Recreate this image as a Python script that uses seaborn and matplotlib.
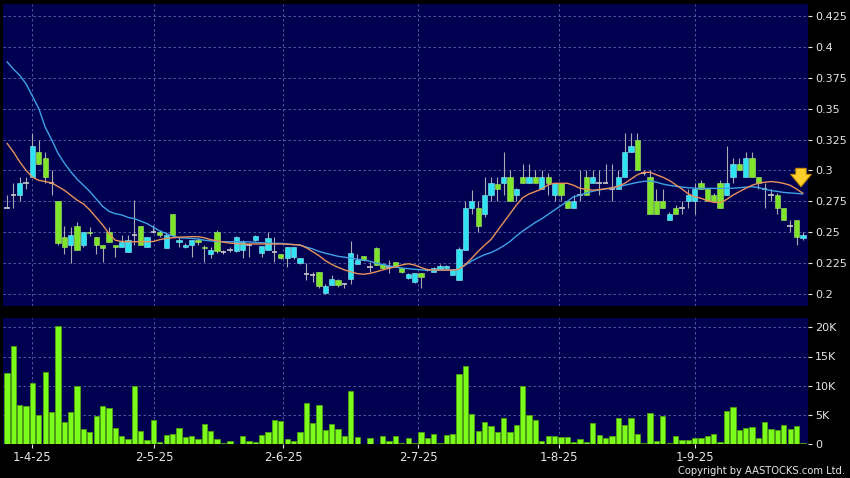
import numpy as np
import pandas as pd
import matplotlib
matplotlib.use("Agg")
import matplotlib.pyplot as plt
import seaborn as sns
from matplotlib.ticker import FixedLocator, FixedFormatter

# trading day index, 26 Mar 2025 .. end Sep 2025
day = np.arange(126)

opens = [
    0.270, 0.280, 0.280, 0.290, 0.295, 0.315, 0.310, 0.290, 0.275, 0.246,
    0.240, 0.255, 0.240, 0.250, 0.246, 0.240, 0.250, 0.240, 0.238, 0.234,
    0.248, 0.255, 0.238, 0.250, 0.250, 0.237, 0.265, 0.242, 0.238, 0.240,
    0.244, 0.238, 0.232, 0.250, 0.234, 0.236, 0.235, 0.236, 0.240, 0.244,
    0.233, 0.236, 0.234, 0.232, 0.229, 0.230, 0.225, 0.216, 0.215, 0.2175,
    0.2005, 0.207, 0.211, 0.208, 0.212, 0.2243, 0.2305, 0.2216, 0.237, 0.224,
    0.222, 0.2256, 0.2208, 0.2127, 0.2094, 0.2167, 0.2194, 0.218, 0.2203, 0.2208,
    0.2154, 0.2113, 0.236, 0.270, 0.270, 0.265, 0.280, 0.289, 0.290, 0.295,
    0.280, 0.295, 0.290, 0.295, 0.285, 0.295, 0.280, 0.290, 0.275, 0.270,
    0.280, 0.295, 0.290, 0.290, 0.290, 0.285, 0.285, 0.295, 0.315, 0.325,
    0.298, 0.295, 0.275, 0.275, 0.260, 0.270, 0.270, 0.275, 0.275, 0.290,
    0.285, 0.280, 0.290, 0.280, 0.295, 0.305, 0.295, 0.310, 0.295, 0.285,
    0.280, 0.280, 0.270, 0.255, 0.260, 0.245,
]
highs = [
    0.280, 0.290, 0.295, 0.295, 0.330, 0.325, 0.315, 0.300, 0.275, 0.255,
    0.254, 0.258, 0.250, 0.254, 0.246, 0.240, 0.254, 0.240, 0.248, 0.248,
    0.276, 0.255, 0.246, 0.256, 0.252, 0.250, 0.265, 0.246, 0.241, 0.244,
    0.245, 0.240, 0.238, 0.252, 0.236, 0.238, 0.247, 0.244, 0.241, 0.248,
    0.239, 0.250, 0.246, 0.232, 0.238, 0.238, 0.229, 0.225, 0.218, 0.218,
    0.208, 0.215, 0.212, 0.209, 0.243, 0.232, 0.231, 0.226, 0.238, 0.225,
    0.2275, 0.226, 0.221, 0.217, 0.217, 0.217, 0.220, 0.222, 0.224, 0.2235,
    0.220, 0.238, 0.275, 0.284, 0.275, 0.295, 0.295, 0.295, 0.315, 0.300,
    0.286, 0.305, 0.305, 0.300, 0.300, 0.298, 0.290, 0.290, 0.275, 0.280,
    0.300, 0.300, 0.300, 0.300, 0.305, 0.305, 0.300, 0.330, 0.330, 0.330,
    0.300, 0.300, 0.285, 0.285, 0.266, 0.272, 0.275, 0.285, 0.290, 0.292,
    0.286, 0.282, 0.292, 0.320, 0.310, 0.310, 0.315, 0.315, 0.295, 0.290,
    0.285, 0.282, 0.270, 0.260, 0.260, 0.250,
]
lows = [
    0.270, 0.270, 0.275, 0.285, 0.295, 0.305, 0.290, 0.280, 0.240, 0.232,
    0.225, 0.236, 0.238, 0.247, 0.232, 0.226, 0.242, 0.230, 0.238, 0.234,
    0.240, 0.240, 0.238, 0.249, 0.246, 0.237, 0.248, 0.238, 0.237, 0.230,
    0.240, 0.226, 0.229, 0.233, 0.232, 0.234, 0.234, 0.229, 0.230, 0.243,
    0.230, 0.236, 0.226, 0.228, 0.222, 0.228, 0.224, 0.211, 0.210, 0.205,
    0.200, 0.207, 0.206, 0.205, 0.208, 0.224, 0.227, 0.218, 0.2235, 0.220,
    0.2168, 0.222, 0.217, 0.212, 0.209, 0.2046, 0.219, 0.218, 0.220, 0.220,
    0.215, 0.211, 0.236, 0.265, 0.250, 0.262, 0.275, 0.275, 0.280, 0.275,
    0.275, 0.290, 0.290, 0.290, 0.285, 0.280, 0.275, 0.275, 0.270, 0.270,
    0.275, 0.280, 0.290, 0.280, 0.290, 0.275, 0.285, 0.295, 0.315, 0.300,
    0.296, 0.265, 0.265, 0.270, 0.260, 0.265, 0.265, 0.270, 0.265, 0.285,
    0.275, 0.275, 0.270, 0.280, 0.290, 0.300, 0.295, 0.295, 0.285, 0.270,
    0.275, 0.265, 0.260, 0.250, 0.240, 0.244,
]
closes = [
    0.270, 0.280, 0.290, 0.290, 0.320, 0.305, 0.295, 0.290, 0.241, 0.238,
    0.248, 0.236, 0.250, 0.249, 0.240, 0.237, 0.242, 0.238, 0.242, 0.244,
    0.248, 0.240, 0.246, 0.250, 0.248, 0.248, 0.248, 0.244, 0.240, 0.244,
    0.242, 0.237, 0.236, 0.235, 0.234, 0.236, 0.246, 0.242, 0.240, 0.247,
    0.239, 0.245, 0.234, 0.229, 0.238, 0.238, 0.229, 0.216, 0.215, 0.2065,
    0.2065, 0.2125, 0.207, 0.208, 0.2335, 0.2275, 0.2275, 0.2216, 0.2235, 0.2208,
    0.222, 0.2229, 0.2175, 0.2162, 0.2167, 0.2135, 0.2194, 0.2213, 0.2229, 0.2229,
    0.2194, 0.2362, 0.270, 0.275, 0.255, 0.280, 0.290, 0.285, 0.295, 0.275,
    0.285, 0.290, 0.295, 0.290, 0.295, 0.290, 0.290, 0.280, 0.270, 0.275,
    0.280, 0.280, 0.295, 0.290, 0.290, 0.285, 0.295, 0.315, 0.320, 0.300,
    0.298, 0.265, 0.265, 0.270, 0.265, 0.265, 0.270, 0.280, 0.285, 0.285,
    0.275, 0.275, 0.270, 0.290, 0.305, 0.300, 0.310, 0.295, 0.290, 0.285,
    0.280, 0.270, 0.260, 0.255, 0.246, 0.248,
]
# volume in thousands
volume_k = [
    12.1, 16.8, 6.7, 6.6, 10.4, 4.9, 12.4, 5.5, 20.2, 3.8,
    5.5, 9.9, 2.6, 2.1, 4.8, 6.6, 6.1, 2.7, 1.4, 0.9,
    9.9, 2.3, 0.7, 4.1, 0.3, 1.6, 1.8, 2.7, 1.2, 1.4,
    0.9, 3.4, 2.2, 0.8, 0.1, 0.5, 0.0, 1.4, 0.5, 0.3,
    1.5, 2.1, 4.1, 4.0, 0.8, 0.5, 2.1, 7.0, 3.6, 6.7,
    2.4, 3.4, 2.5, 1.3, 9.1, 1.2, 0.05, 1.1, 0.05, 1.3,
    0.5, 1.3, 0.15, 1.1, 0.15, 2.0, 1.0, 1.7, 0.1, 1.6,
    1.7, 12.0, 13.3, 5.1, 2.2, 3.7, 3.1, 2.1, 4.4, 2.1,
    3.2, 9.9, 4.9, 4.1, 0.6, 1.4, 1.4, 1.2, 1.2, 0.3,
    0.9, 0.3, 3.6, 1.6, 1.1, 1.4, 4.5, 3.2, 4.4, 1.7,
    0.2, 5.3, 0.6, 4.8, 0.1, 1.4, 0.7, 0.7, 1.1, 1.1,
    1.4, 1.7, 0.4, 5.6, 6.3, 2.4, 2.7, 3.0, 1.1, 3.7,
    2.5, 2.4, 3.3, 2.5, 3.1, 0.1,
]
# moving averages as drawn on the chart (short = orange, long = blue)
ma_short = [
    0.322, 0.315, 0.307, 0.300, 0.2945, 0.292, 0.291, 0.290, 0.287, 0.284,
    0.280, 0.276, 0.273, 0.268, 0.262, 0.256, 0.249, 0.2435, 0.2425, 0.2423,
    0.2423, 0.2423, 0.2423, 0.2425, 0.244, 0.245, 0.2455, 0.246, 0.2462, 0.2464,
    0.2464, 0.2455, 0.244, 0.243, 0.242, 0.2412, 0.2408, 0.2405, 0.2405, 0.2405,
    0.2405, 0.2405, 0.2405, 0.2405, 0.2403, 0.240, 0.2397, 0.2375, 0.2343, 0.231,
    0.227, 0.224, 0.2215, 0.2195, 0.218, 0.2165, 0.216, 0.2167, 0.218, 0.2195,
    0.2208, 0.222, 0.2235, 0.2245, 0.2235, 0.2215, 0.2198, 0.2194, 0.2194, 0.2194,
    0.2194, 0.220, 0.224, 0.229, 0.2345, 0.2395, 0.244, 0.251, 0.258, 0.265,
    0.272, 0.278, 0.281, 0.283, 0.285, 0.2885, 0.2896, 0.2896, 0.2896, 0.288,
    0.2855, 0.2848, 0.284, 0.2845, 0.2852, 0.286, 0.2872, 0.2895, 0.293, 0.2965,
    0.2985, 0.2985, 0.2965, 0.2945, 0.292, 0.2885, 0.285, 0.281, 0.2787, 0.2775,
    0.2755, 0.2742, 0.2739, 0.2765, 0.280, 0.2828, 0.2855, 0.288, 0.2896, 0.2905,
    0.291, 0.2905, 0.2895, 0.288, 0.285, 0.2815,
]
ma_long = [
    0.388, 0.382, 0.377, 0.370, 0.360, 0.350, 0.335, 0.325, 0.314, 0.306,
    0.299, 0.293, 0.288, 0.283, 0.277, 0.271, 0.267, 0.265, 0.264, 0.262,
    0.261, 0.259, 0.257, 0.254, 0.251, 0.249, 0.247, 0.2455, 0.2453, 0.245,
    0.2445, 0.2435, 0.243, 0.2425, 0.2423, 0.2423, 0.2423, 0.2423, 0.2422, 0.2418,
    0.2415, 0.2412, 0.241, 0.241, 0.2405, 0.240, 0.2397, 0.238, 0.2365, 0.2345,
    0.233, 0.2318, 0.2305, 0.2298, 0.229, 0.2282, 0.2275, 0.2265, 0.225, 0.2238,
    0.2228, 0.2218, 0.221, 0.2205, 0.220, 0.2196, 0.2194, 0.2194, 0.2194, 0.2194,
    0.2194, 0.220, 0.2235, 0.2268, 0.2295, 0.2318, 0.2335, 0.236, 0.239, 0.2425,
    0.247, 0.251, 0.2545, 0.258, 0.261, 0.2645, 0.268, 0.2715, 0.275, 0.2787,
    0.280, 0.2818, 0.2832, 0.2842, 0.285, 0.2858, 0.2866, 0.288, 0.2892, 0.2903,
    0.2912, 0.2915, 0.2905, 0.289, 0.288, 0.2872, 0.2865, 0.286, 0.2856, 0.2855,
    0.2855, 0.2855, 0.2855, 0.2855, 0.2856, 0.286, 0.2865, 0.2868, 0.2862, 0.2848,
    0.2838, 0.283, 0.2822, 0.2818, 0.2814, 0.281,
]

date_ticks = [3.95, 23.1, 43.4, 64.6, 86.7, 108.1]
date_labels = ["1-4-25", "2-5-25", "2-6-25", "2-7-25", "1-8-25", "1-9-25"]
price_ticks = [0.2, 0.225, 0.25, 0.275, 0.3, 0.325, 0.35, 0.375, 0.4, 0.425]
price_labels = ["0.2", "0.225", "0.25", "0.275", "0.3", "0.325", "0.35", "0.375", "0.4", "0.425"]
vol_ticks = [0, 5, 10, 15, 20]
vol_labels = ["0", "5K", "10K", "15K", "20K"]

BG = "#000050"
UP = "#2FE3F2"
DOWN = "#7FE52A"
VOL = "#7CFC1A"
GRID = "#5868A8"
TXT = "#E6E6E6"

sns.set_theme(style="dark", rc={"figure.facecolor": "black", "axes.facecolor": BG,
                                "savefig.facecolor": "black"})
plt.rcParams["font.family"] = ["DejaVu Sans"]

fig = plt.figure(figsize=(8.5, 4.78), dpi=100)
ax_p = fig.add_axes([3 / 850, 1 - 306 / 478, 805 / 850, 302 / 478])
ax_v = fig.add_axes([3 / 850, 1 - 444 / 478, 805 / 850, 126 / 478])

df = pd.DataFrame({"day": day, "open": opens, "high": highs, "low": lows,
                   "close": closes, "vol": volume_k,
                   "ma_s": ma_short, "ma_l": ma_long})

# ---- price panel
ax_p.vlines(df["day"], df["low"], df["high"], color="#A9A9B0", lw=0.8, zorder=2)
up = df[df["close"] > df["open"]]
dn = df[df["close"] < df["open"]]
dj = df[df["close"] == df["open"]]
ax_p.bar(up["day"], up["close"] - up["open"], bottom=up["open"], width=0.83,
         color=UP, edgecolor="#8FEAF2", lw=0.4, zorder=3)
ax_p.bar(dn["day"], dn["open"] - dn["close"], bottom=dn["close"], width=0.83,
         color=DOWN, edgecolor="#A6EA6A", lw=0.4, zorder=3)
ax_p.hlines(dj["close"], dj["day"] - 0.42, dj["day"] + 0.42, color="#C8C8CC", lw=1.2, zorder=3)

sns.lineplot(data=df, x="day", y="ma_l", ax=ax_p, color="#3FA2E6", lw=1.0, zorder=4)
sns.lineplot(data=df, x="day", y="ma_s", ax=ax_p, color="#E8925A", lw=1.0, zorder=4)

# signal arrow above the last candle
ax_p.annotate("", xy=(124.7, 0.2845), xytext=(124.7, 0.3040),
              arrowprops=dict(arrowstyle="simple,head_length=0.6,head_width=1.0,tail_width=0.5",
                              fc="#FFD02A", ec="#C08800", lw=0.7, mutation_scale=15),
              zorder=6)

ax_p.set_ylim(0.1903, 0.4347)

# ---- volume panel
sns.barplot(data=df, x="day", y="vol", ax=ax_v, native_scale=True, width=0.83,
            color=VOL, saturation=1, edgecolor="#4FA010", linewidth=0.6, zorder=3)
ax_v.set_ylim(0, 21.6)

for ax in (ax_p, ax_v):
    ax.set_xlim(-0.63, 125.8)
    ax.set_xlabel("")
    ax.set_ylabel("")
    for s in ax.spines.values():
        s.set_visible(False)
    ax.xaxis.set_major_locator(FixedLocator(date_ticks))
    ax.grid(True, color=GRID, lw=0.6, ls=(0, (3, 3)), zorder=0)
    ax.set_axisbelow(True)
    ax.yaxis.tick_right()
    ax.tick_params(axis="y", which="both", right=True, left=False, length=3, width=0.8,
                   color=TXT, labelcolor=TXT, labelsize=8, pad=2)

ax_p.yaxis.set_major_locator(FixedLocator(price_ticks))
ax_p.yaxis.set_major_formatter(FixedFormatter(price_labels))
ax_p.tick_params(axis="x", bottom=False, labelbottom=False)

ax_v.yaxis.set_major_locator(FixedLocator(vol_ticks))
ax_v.yaxis.set_major_formatter(FixedFormatter(vol_labels))
ax_v.xaxis.set_major_formatter(FixedFormatter(date_labels))
ax_v.tick_params(axis="x", bottom=True, length=3, width=0.8, color=TXT,
                 labelcolor=TXT, labelsize=8.5, pad=2)

fig.text(0.994, 0.014, "Copyright by AASTOCKS.com Ltd.", ha="right", va="center",
         color=TXT, fontsize=7.2)

fig.savefig("out.png", dpi=100, facecolor="black")
